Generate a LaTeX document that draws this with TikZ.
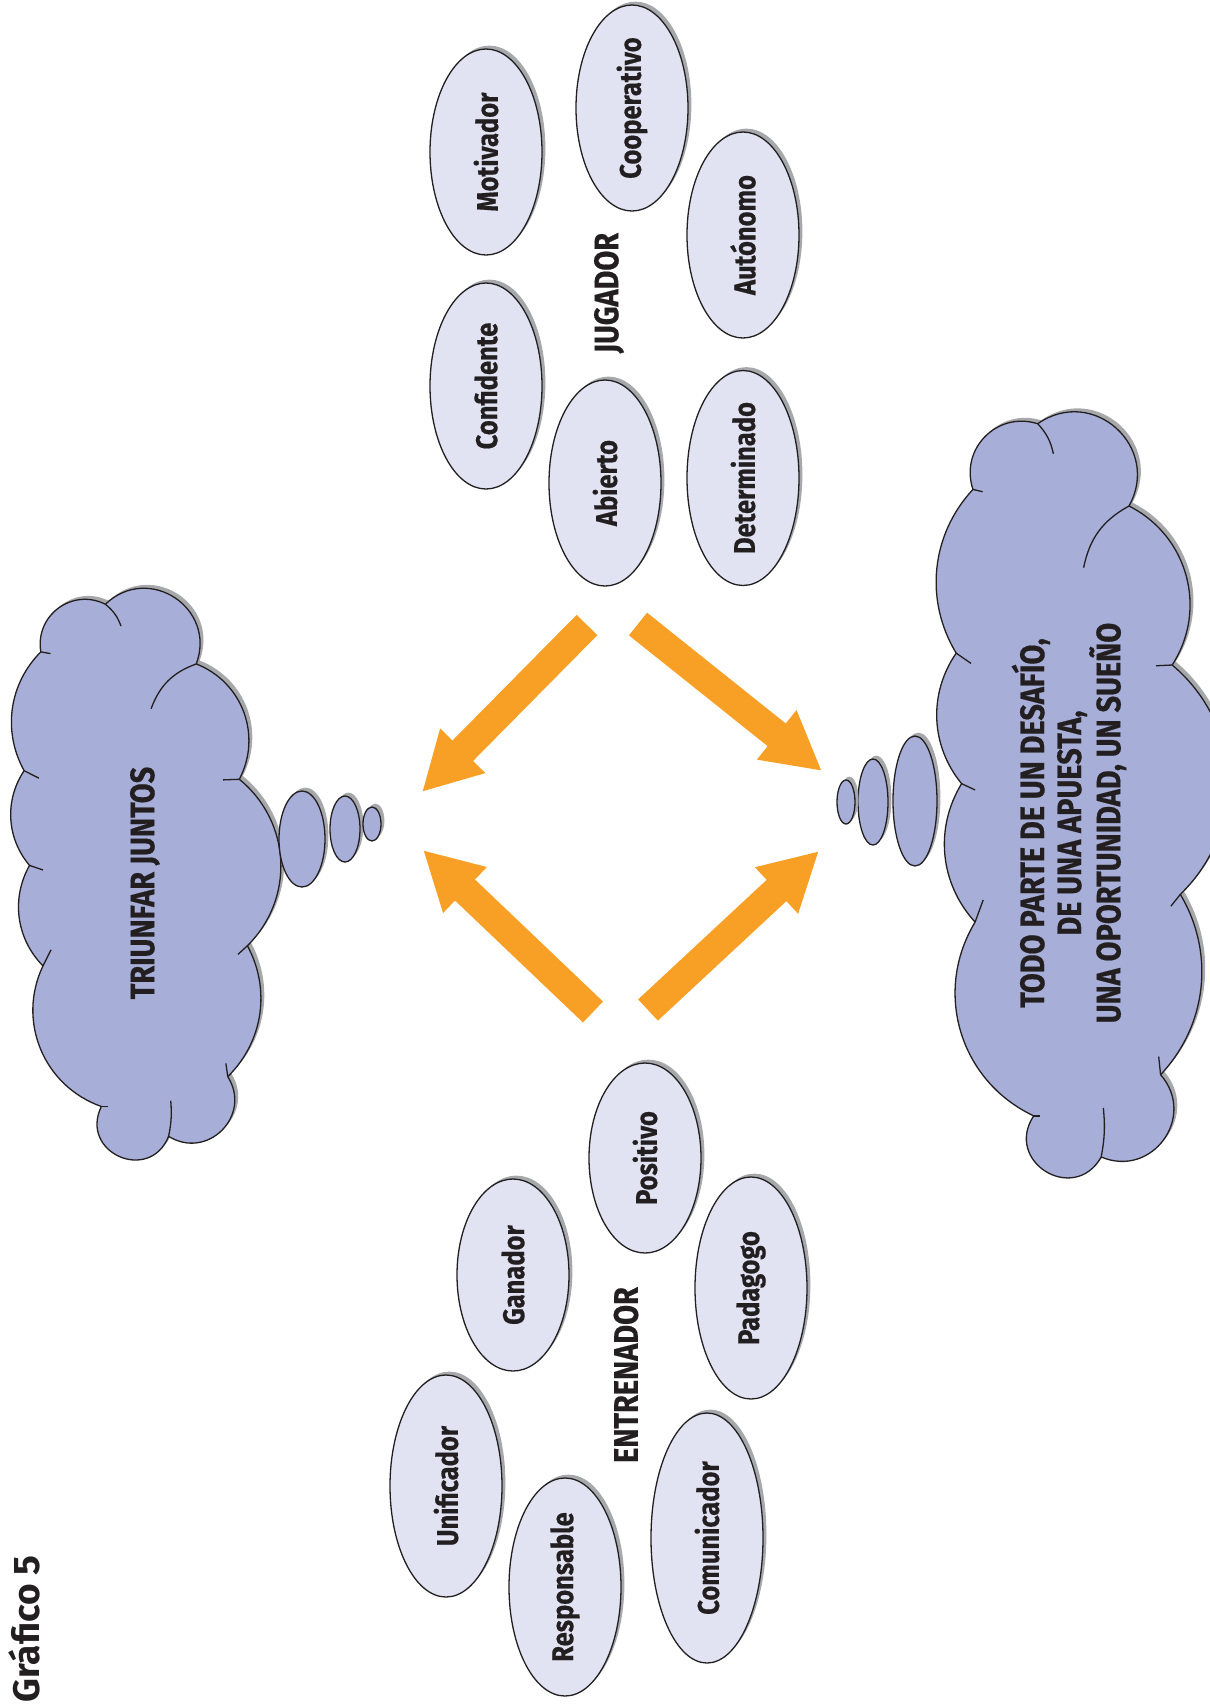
\documentclass[tikz,border=0pt]{standalone}
\usepackage{fontspec}
\setmainfont{Fira Sans}
\newfontfamily\condfont[FakeStretch=0.85,BoldFeatures={FakeBold=0.5}]{Fira Sans}
\usetikzlibrary{shapes.geometric,shadows,arrows.meta}

\definecolor{cloudBlue}{RGB}{167,175,217}
\definecolor{ovalBlue}{RGB}{225,227,243}
\definecolor{shadowGray}{RGB}{166,168,171}
\definecolor{arrowOrange}{RGB}{248,160,38}
\definecolor{inkBlack}{RGB}{35,31,32}

\begin{document}
\begin{tikzpicture}
[x=0.5pt,y=-0.5pt,
  grayShadow/.style={drop shadow={shadow xshift=1.7pt,shadow yshift=1.7pt,fill=shadowGray,opacity=1}},
  ovalDecorate/.style={shape=ellipse,draw=inkBlack,fill=ovalBlue,line width=0.65pt,
    inner sep=0pt,minimum width=56pt,text=inkBlack,grayShadow,
    font=\condfont\bfseries\fontsize{15}{17}\selectfont},
  bubbleDecorate/.style={shape=ellipse,draw=inkBlack,fill=cloudBlue,line width=0.65pt,
    inner sep=0pt,grayShadow},
  cloudDecorate/.style={draw=inkBlack,fill=cloudBlue,line width=0.65pt,line join=round,grayShadow},
  tickDecorate/.style={draw=inkBlack,line width=0.65pt},
  shallowPuff/.style={bend left=37,looseness=0.96},
  mediumPuff/.style={bend left=48,looseness=1.03},
  roundPuff/.style={bend left=63,looseness=1.18},
  deepPuff/.style={bend left=77,looseness=1.4},
  fullPuff/.style={bend left=92,looseness=1.78},
  labelDecorate/.style={rotate=90,text=inkBlack,inner sep=0pt,align=center,
    font=\condfont\bfseries\fontsize{17}{18.5}\selectfont},
  arrowDecorate/.style={-{Triangle[width=29.5pt,length=29pt]},draw=arrowOrange,line width=14.5pt}]
\useasboundingbox (0,0) rectangle (1210,1705);

%% clouds
\foreach \cloudname/\cx/\cy/\cw/\ch in {triunfar/8/587/269/574, sueno/940/400/270/791}
{
  \begin{scope}[shift={(\cx,\cy)},x=\cw*0.5pt,y=-\ch*0.5pt]
    \foreach \pointname/\px/\py in {
      a/0.122/0.113, b/0.362/0.030, c/0.700/0.134, d/0.860/0.335,
      e/0.890/0.625, f/0.817/0.853, g/0.597/0.957, h/0.347/0.905,
      i/0.130/0.660, j/0.080/0.485, k/0.060/0.320}
    {
      \coordinate (\cloudname-\pointname) at (\px,\py);
    }
    \path[cloudDecorate] (\cloudname-a)
      to[roundPuff] (\cloudname-b) to[deepPuff] (\cloudname-c)
      to[mediumPuff] (\cloudname-d) to[mediumPuff] (\cloudname-e)
      to[shallowPuff] (\cloudname-f) to[deepPuff] (\cloudname-g)
      to[fullPuff] (\cloudname-h) to[mediumPuff] (\cloudname-i)
      to[shallowPuff] (\cloudname-j) to[shallowPuff] (\cloudname-k)
      to[shallowPuff] (\cloudname-a) -- cycle;
    %% small inner arcs at the dents
    \draw[tickDecorate] (\cloudname-a) -- (0.158,0.116);
    \draw[tickDecorate] (\cloudname-b) to[bend left=15] (0.420,0.068);
    \draw[tickDecorate] (0.532,0.212) to[bend left=25] (\cloudname-c);
    \draw[tickDecorate] (\cloudname-d) -- (0.800,0.336);
    \draw[tickDecorate] (\cloudname-e) -- (0.855,0.640);
    \draw[tickDecorate] (\cloudname-f) -- (0.810,0.830);
    \draw[tickDecorate] (\cloudname-g) to[bend right=8] (0.605,0.895);
    \draw[tickDecorate] (\cloudname-h) -- (0.372,0.905);
    \draw[tickDecorate] (\cloudname-i) -- (0.160,0.632);
    \draw[tickDecorate] (\cloudname-j) -- (0.130,0.493);
    \draw[tickDecorate] (\cloudname-k) -- (0.115,0.333);
  \end{scope}
}
\node (triunfarText) at (145,883) [labelDecorate] {TRIUNFAR JUNTOS};
\node (suenoText) at (1069,823) [labelDecorate] {TODO PARTE DE UN DESAFÍO,\\DE UNA APUESTA,\\UNA OPORTUNIDAD, UN SUEÑO};

%% thought bubbles
\foreach \nodename/\x/\y/\w/\h in {
  tl1/302/839/23/48, tl2/345/829/15/33, tl3/372/824/9/17,
  tr1/915/801/22/65, tr2/873/802/15/43, tr3/846/802/9/22}
{
  \node (\nodename) at (\x,\y) [bubbleDecorate,minimum width=\w pt,minimum height=\h pt] {};
}

%% jugador ovals
\foreach \nodename/\x/\y/\h/\word in {
  motivador/486/152/103/Motivador,
  cooperativo/632/108/103/Cooperativo,
  autonomo/743/235/103/Autónomo,
  confidente/486/386/103/Confidente,
  abierto/605/483/103/Abierto,
  determinado/743/478/103/Determinado}
{
  \node (\nodename) at (\x,\y) [ovalDecorate,minimum height=\h pt] {\rotatebox{90}{\word}};
}
\node (jugador) at (609,293) [labelDecorate] {JUGADOR};

%% entrenador ovals
\foreach \nodename/\x/\y/\h/\word in {
  positivo/645/1158/95/Positivo,
  ganador/513/1275/96/Ganador,
  padagogo/751/1288/111/Padagogo,
  unificador/446/1486/111/Unificador,
  responsable/565/1587/109/Responsable,
  comunicador/707/1538/125/Comunicador}
{
  \node (\nodename) at (\x,\y) [ovalDecorate,minimum height=\h pt] {\rotatebox{90}{\word}};
}
\node (entrenador) at (626,1375) [labelDecorate] {ENTRENADOR};

%% arrows
\foreach \pointname/\x/\y in {
  jugTailL/587/625, jugTailR/638/624, entTailL/593/1012, entTailR/648/1010,
  tipTL/422/792, tipTR/822/771, tipBL/423/850, tipBR/819/851}
{
  \coordinate (\pointname) at (\x,\y);
}
\path
\foreach \startnode/\endnode in {
  jugTailL/tipTL, jugTailR/tipTR, entTailL/tipBL, entTailR/tipBR}
{
  (\startnode) edge[arrowDecorate] (\endnode)
};

%% title
\node (titulo) at (24,1629) [rotate=90,text=inkBlack,inner sep=0pt,
  font=\bfseries\fontsize{18.5}{20}\selectfont] {Gráfico 5};
\end{tikzpicture}
\end{document}
